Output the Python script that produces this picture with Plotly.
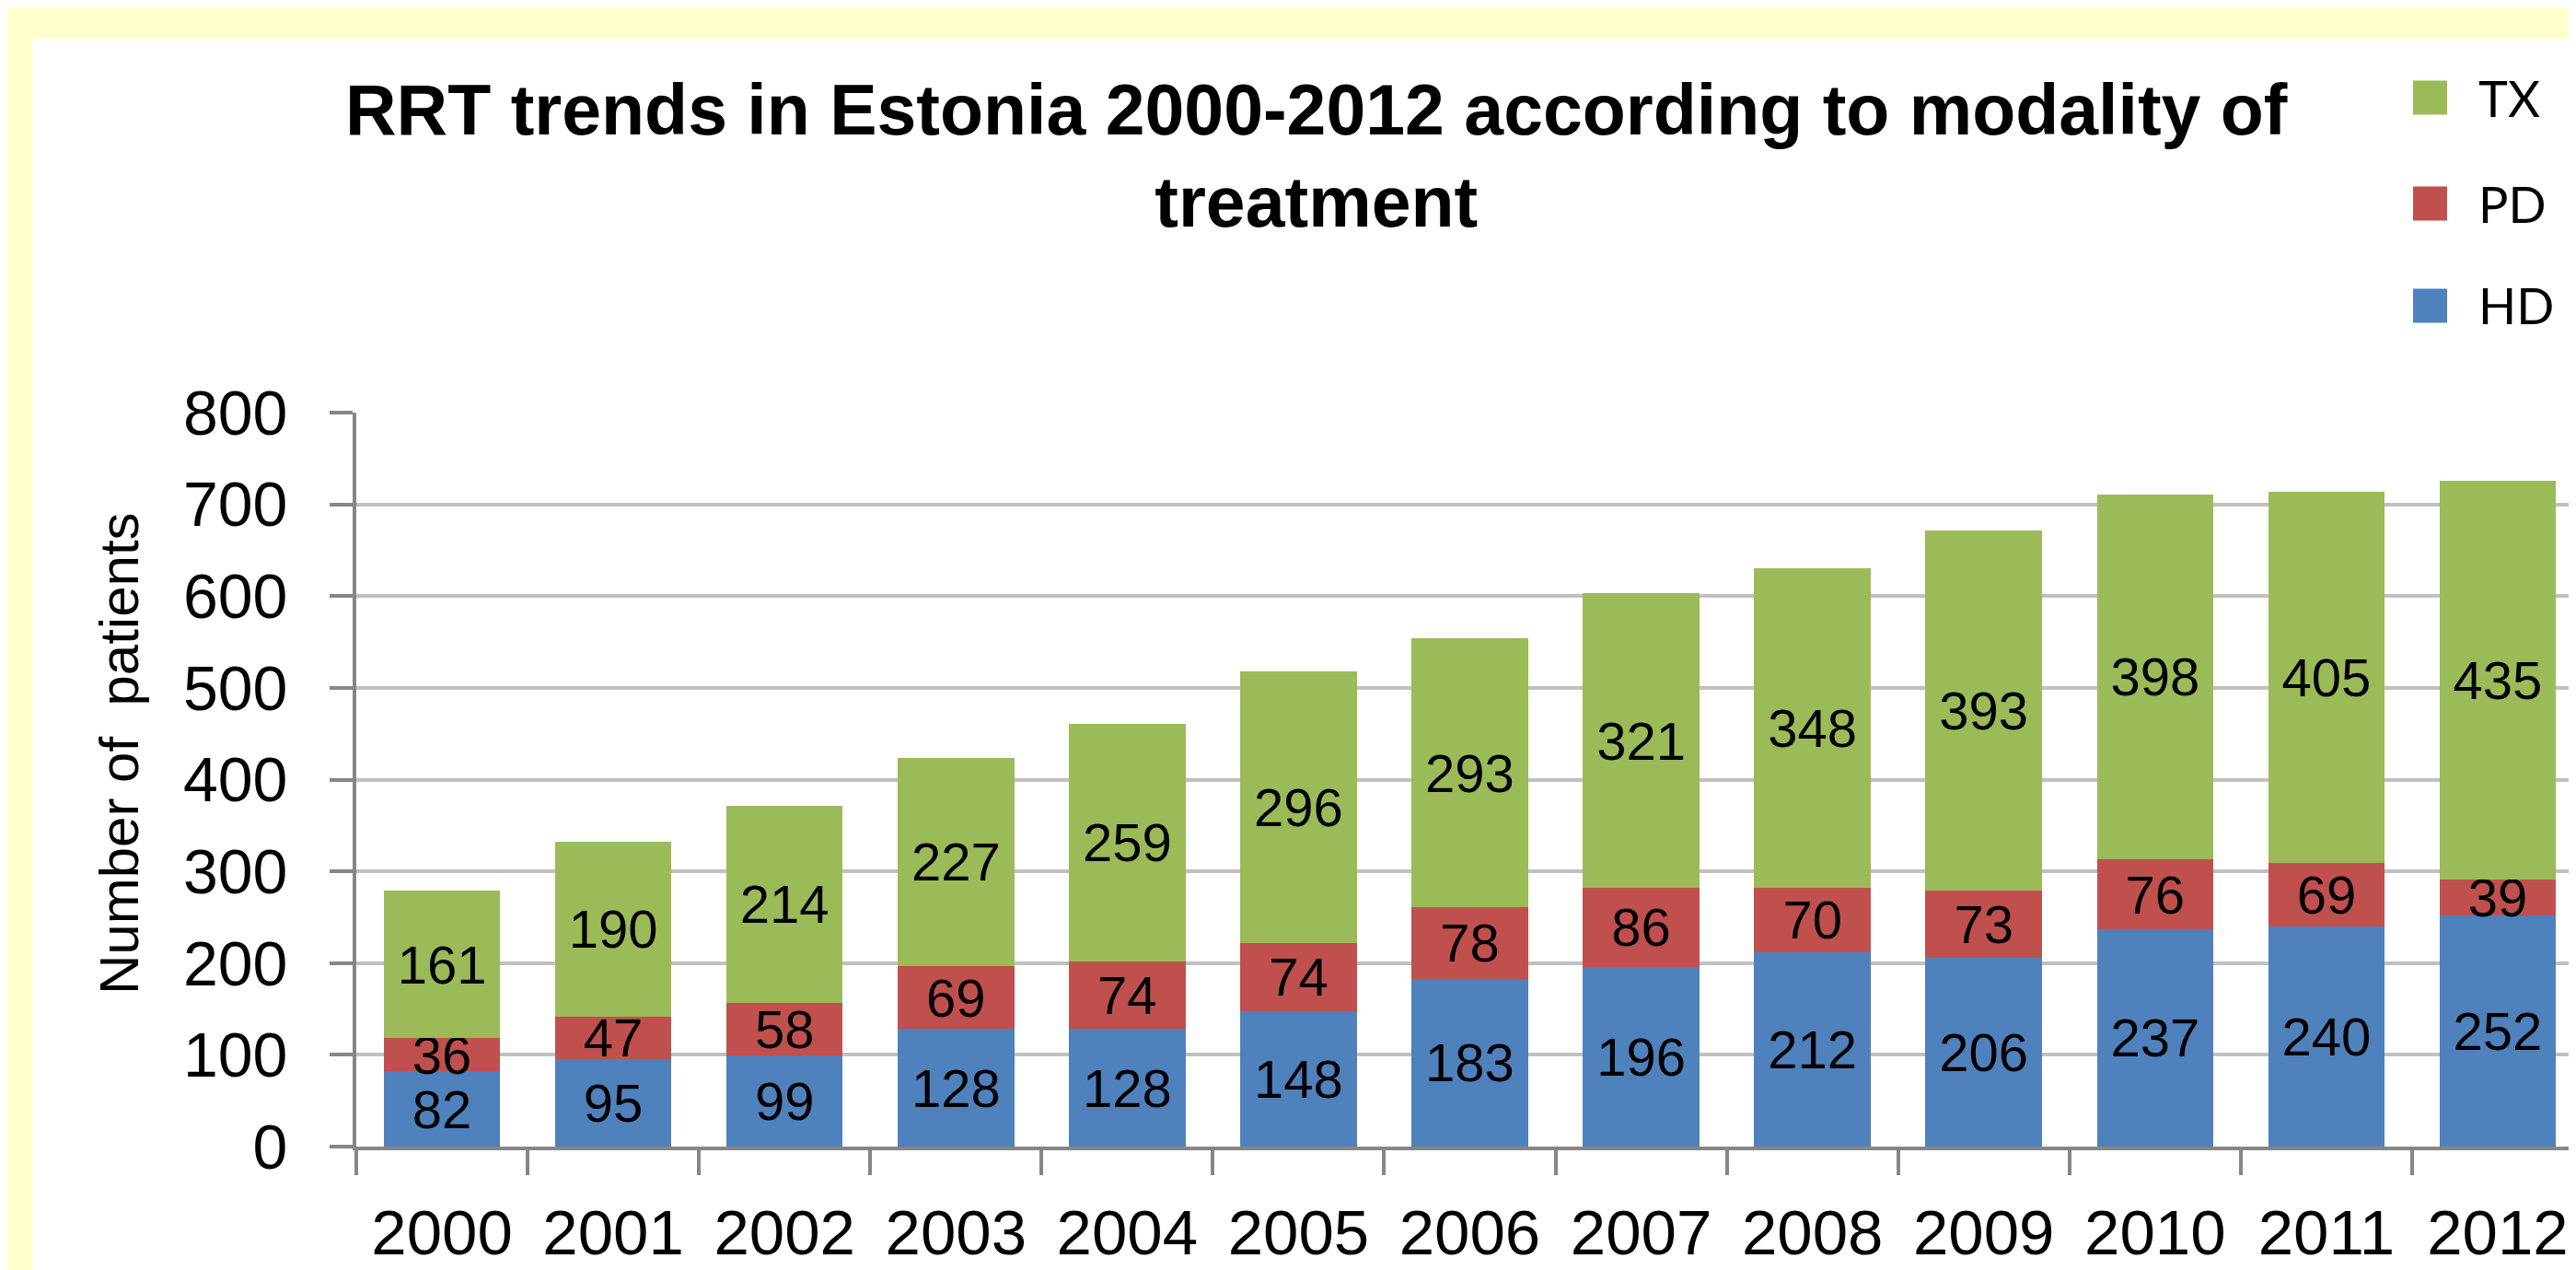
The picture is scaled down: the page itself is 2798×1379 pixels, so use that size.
import plotly.graph_objects as go

years = ["2000", "2001", "2002", "2003", "2004", "2005", "2006",
         "2007", "2008", "2009", "2010", "2011", "2012"]
hd = [82, 95, 99, 128, 128, 148, 183, 196, 212, 206, 237, 240, 252]
pd_ = [36, 47, 58, 69, 74, 74, 78, 86, 70, 73, 76, 69, 39]
tx = [161, 190, 214, 227, 259, 296, 293, 321, 348, 393, 398, 405, 435]
y_ticks = [0, 100, 200, 300, 400, 500, 600, 700, 800]

series = [("HD", hd, "#4F81BD"), ("PD", pd_, "#C0504D"), ("TX", tx, "#9BBB59")]

W, H = 2798, 1379
L, R, T, B = 379, 2798, 440, 1237


def px_x(x):
    return (x - L) / (R - L)


def px_y(y):
    return (B - y) / (B - T)


FONT = "Liberation Sans, Arial, sans-serif"

fig = go.Figure()
for name, vals, col in series:
    fig.add_trace(go.Bar(
        x=years, y=vals, name=name, marker=dict(color=col, line=dict(width=0)),
        text=[str(v) for v in vals], textposition="inside", insidetextanchor="middle",
        textangle=0, textfont=dict(family=FONT, size=58, color="black"),
        showlegend=False, cliponaxis=False,
    ))

shapes = [
    dict(type="rect", xref="paper", yref="paper", x0=px_x(0), x1=px_x(27),
         y0=px_y(H), y1=px_y(0), fillcolor="#FFFFCC", line=dict(width=0), layer="below"),
    dict(type="rect", xref="paper", yref="paper", x0=px_x(0), x1=px_x(W),
         y0=px_y(34), y1=px_y(0), fillcolor="#FFFFCC", line=dict(width=0), layer="below"),
]
annotations = [
    dict(text="RRT trends in Estonia 2000-2012 according to modality of<br>treatment",
         xref="paper", yref="paper", x=px_x(1422), y=px_y(161), xanchor="center",
         yanchor="middle", showarrow=False,
         font=dict(family=FONT, size=77, color="black", weight="bold")),
    dict(text="Number of  patients", textangle=-90, xref="paper", yref="paper",
         x=px_x(121), y=px_y(810), xanchor="center", yanchor="middle", showarrow=False,
         font=dict(family=FONT, size=60, color="black")),
]

legend_items = [("TX", "#9BBB59", 98), ("PD", "#C0504D", 213), ("HD", "#4F81BD", 324)]
for name, col, cy in legend_items:
    shapes.append(dict(type="rect", xref="paper", yref="paper",
                       x0=px_x(2613), x1=px_x(2650), y0=px_y(cy + 18.5), y1=px_y(cy - 18.5),
                       fillcolor=col, line=dict(width=0)))
    annotations.append(dict(text=name, xref="paper", yref="paper", x=px_x(2682),
                            y=px_y(cy), xanchor="left", yanchor="middle", showarrow=False,
                            font=dict(family="Lato, Open Sans, sans-serif", size=54,
                                      color="black")))

fig.update_layout(
    width=W, height=H,
    margin=dict(l=L, r=W - R, t=T, b=H - B, pad=0),
    barmode="stack", bargap=0.32,
    paper_bgcolor="white", plot_bgcolor="white",
    shapes=shapes, annotations=annotations,
    uniformtext=dict(minsize=58, mode="show"),
    xaxis=dict(
        range=[-0.5, 12.5], tickson="boundaries", ticks="outside", ticklen=27,
        tickwidth=4, tickcolor="#868686", showline=True, linecolor="#868686",
        linewidth=4, showgrid=False, ticklabelstandoff=30,
        tickfont=dict(family=FONT, size=69, color="black"),
    ),
    yaxis=dict(
        range=[0, 800], tickvals=y_ticks, ticks="outside", ticklen=25, tickwidth=4,
        tickcolor="#868686", showline=True, linecolor="#868686", linewidth=4,
        showgrid=True, gridcolor="#C0C0C0", gridwidth=3.5, zeroline=False,
        ticklabelstandoff=32, tickfont=dict(family=FONT, size=68, color="black"),
    ),
)

fig.write_html("out.html")
